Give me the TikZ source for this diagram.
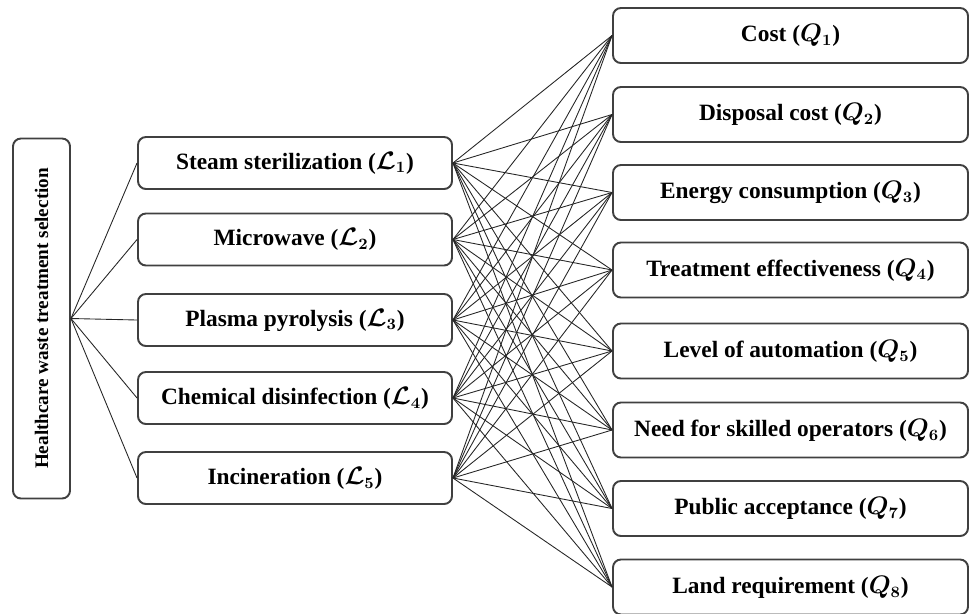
\documentclass[tikz,border=0pt]{standalone}
\usepackage{fontspec}
\setmainfont{Liberation Serif}

\begin{document}
\begin{tikzpicture}[
    box/.style={draw=black!75, line width=1.1pt, rounded corners=4.5pt, fill=white,
        font=\fontsize{13.3}{15}\selectfont\bfseries\boldmath},
    altbox/.style={box, minimum width=6.28cm, minimum height=1.04cm},
    critbox/.style={box, minimum width=7.1cm, minimum height=1.1cm},
    link/.style={line width=0.5pt, black!85}]
    \useasboundingbox (0, 0) rectangle (19.4, -12.26);
    \node[box, rotate=90, minimum width=7.2cm, minimum height=1.14cm, font=\fontsize{10.9}{13}\selectfont\bfseries] (goal) at (0.83, -6.37) {Healthcare waste treatment selection};
    \node[altbox] (l1) at (5.9, -3.26) {Steam sterilization ($\mathcal{L}_1$)};
    \node[altbox] (l2) at (5.9, -4.79) {Microwave ($\mathcal{L}_2$)};
    \node[altbox] (l3) at (5.9, -6.40) {Plasma pyrolysis ($\mathcal{L}_3$)};
    \node[altbox] (l4) at (5.9, -7.96) {Chemical disinfection ($\mathcal{L}_4$)};
    \node[altbox] (l5) at (5.9, -9.56) {Incineration ($\mathcal{L}_5$)};
    \node[critbox] (q1) at (15.81, -0.71) {Cost ($Q_1$)};
    \node[critbox] (q2) at (15.81, -2.29) {Disposal cost ($Q_2$)};
    \node[critbox] (q3) at (15.81, -3.85) {Energy consumption ($Q_3$)};
    \node[critbox] (q4) at (15.81, -5.40) {Treatment effectiveness ($Q_4$)};
    \node[critbox] (q5) at (15.81, -7.02) {Level of automation ($Q_5$)};
    \node[critbox] (q6) at (15.81, -8.60) {Need for skilled operators ($Q_6$)};
    \node[critbox] (q7) at (15.81, -10.17) {Public acceptance ($Q_7$)};
    \node[critbox] (q8) at (15.81, -11.74) {Land requirement ($Q_8$)};
    \foreach \i in {1,...,5}
        \draw[link] (goal.south) -- (l\i.west);
    \foreach \i in {1,...,5}
        \foreach \j in {1,...,8}
            \draw[link] (l\i.east) -- (q\j.west);
\end{tikzpicture}
\end{document}
